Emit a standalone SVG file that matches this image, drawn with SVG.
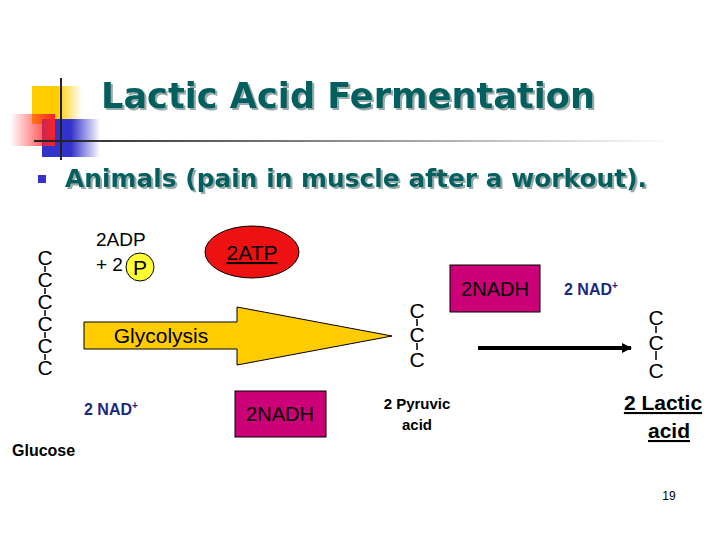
<svg xmlns="http://www.w3.org/2000/svg" width="720" height="540" viewBox="0 0 720 540">
<defs>
<linearGradient id="gy" x1="0" x2="1"><stop offset="0.5" stop-color="#ffcc00"/><stop offset="1" stop-color="#ffcc00" stop-opacity="0"/></linearGradient>
<linearGradient id="gb" x1="0" x2="1"><stop offset="0.5" stop-color="#3333cc"/><stop offset="1" stop-color="#3333cc" stop-opacity="0"/></linearGradient>
<linearGradient id="gr" x1="1" x2="0"><stop offset="0" stop-color="#ff2222"/><stop offset="1" stop-color="#ff2222" stop-opacity="0"/></linearGradient>
<linearGradient id="gl" x1="0" x2="1"><stop offset="0" stop-color="#222"/><stop offset="1" stop-color="#222" stop-opacity="0"/></linearGradient>
<filter id="sh" x="-5%" y="-20%" width="110%" height="140%"><feDropShadow dx="2" dy="2" stdDeviation="0.5" flood-color="#99aaaa"/></filter>
<marker id="ah" markerWidth="10" markerHeight="10" refX="9" refY="5" orient="auto" markerUnits="userSpaceOnUse"><path d="M0,0 L10,5 L0,10 z" fill="#000"/></marker>
</defs>
<style>
.t{font-family:"DejaVu Sans",Verdana,sans-serif;font-weight:bold;fill:#006060}
.a{font-family:"Liberation Sans",Arial,sans-serif}
.c{font-family:"Liberation Sans",Arial,sans-serif;font-size:21px;text-anchor:middle}
.b{stroke:#000;stroke-width:1.5}
.nad{font-family:"Liberation Sans",Arial,sans-serif;font-weight:bold;font-size:16px;fill:#1a2a80}
</style>
<rect width="720" height="540" fill="#fff"/>
<g id="logo">
<rect x="32" y="86" width="50" height="38" fill="url(#gy)"/>
<rect x="42" y="119" width="58" height="38" fill="url(#gb)"/>
<rect x="10" y="114" width="45" height="32" fill="url(#gr)"/>
<line x1="61" y1="78" x2="61" y2="160" stroke="#222" stroke-width="2"/>
<rect x="34" y="140" width="640" height="2" fill="url(#gl)"/>
</g>
<g id="title">
<text x="348" y="108" class="t" font-size="35" text-anchor="middle" textLength="494" lengthAdjust="spacingAndGlyphs" filter="url(#sh)">Lactic Acid Fermentation</text>
<rect x="38" y="175" width="8" height="8" fill="#3333cc"/>
<text x="65" y="187" class="t" font-size="25" textLength="582" lengthAdjust="spacingAndGlyphs" filter="url(#sh)">Animals (pain in muscle after a workout).</text>
</g>
<g id="glucose">
<text class="c" x="45" y="265">C</text><text class="c" x="45" y="287">C</text><text class="c" x="45" y="309">C</text><text class="c" x="45" y="331">C</text><text class="c" x="45" y="353">C</text><text class="c" x="45" y="375">C</text>
<path class="b" d="M45,266V272M45,288V294M45,310V316M45,332V338M45,354V360"/>
<text class="a" x="12" y="456" font-size="16" font-weight="bold">Glucose</text>
</g>
<g id="adp">
<text class="a" x="96" y="246" font-size="19">2ADP</text>
<text class="a" x="96" y="271" font-size="19">+ 2</text>
<circle cx="140" cy="267" r="14" fill="#ffff33" stroke="#000"/>
<text class="a" x="140" y="275" font-size="21" text-anchor="middle">P</text>
</g>
<g id="atp">
<ellipse cx="252" cy="252" rx="47" ry="26" fill="#ee1111" stroke="#000"/>
<text class="a" x="252" y="260" font-size="21" text-anchor="middle" text-decoration="underline">2ATP</text>
</g>
<g id="glycolysis">
<path d="M84,322 H237 V307 L392,336 L237,365 V349 H84 Z" fill="#ffcc00" stroke="#000"/>
<text class="a" x="161" y="343" font-size="21" text-anchor="middle">Glycolysis</text>
</g>
<g id="nad1"><text class="nad" x="84" y="415">2 NAD<tspan font-size="10" dy="-6">+</tspan></text></g>
<g id="nadh1">
<rect x="235" y="391" width="91" height="46" fill="#cc0077" stroke="#000"/>
<text class="a" x="280" y="421" font-size="20" text-anchor="middle">2NADH</text>
</g>
<g id="pyruvic">
<text class="c" x="417" y="318">C</text><text class="c" x="417" y="342">C</text><text class="c" x="417" y="367">C</text>
<path class="b" d="M417,319V326M417,343V350"/>
<text class="a" x="417" y="409" font-size="15" font-weight="bold" text-anchor="middle">2 Pyruvic</text>
<text class="a" x="417" y="430" font-size="15" font-weight="bold" text-anchor="middle">acid</text>
</g>
<g id="nadh2">
<rect x="450" y="265" width="90" height="47" fill="#cc0077" stroke="#000"/>
<text class="a" x="495" y="296" font-size="20" text-anchor="middle">2NADH</text>
</g>
<g id="nad2"><text class="nad" x="564" y="295">2 NAD<tspan font-size="10" dy="-6">+</tspan></text></g>
<g id="connectors">
<line x1="478" y1="348" x2="631" y2="348" stroke="#000" stroke-width="4" marker-end="url(#ah)"/>
</g>
<g id="lactic">
<text class="c" x="656" y="325">C</text><text class="c" x="656" y="350">C</text><text class="c" x="656" y="378">C</text>
<path class="b" d="M656,326V333M656,351V360"/>
<text class="a" x="663" y="410" font-size="21" font-weight="bold" text-anchor="middle" text-decoration="underline">2 Lactic</text>
<text class="a" x="669" y="438" font-size="21" font-weight="bold" text-anchor="middle" text-decoration="underline">acid</text>
</g>
<text class="a" x="669" y="500" font-size="12" text-anchor="middle">19</text>
</svg>
